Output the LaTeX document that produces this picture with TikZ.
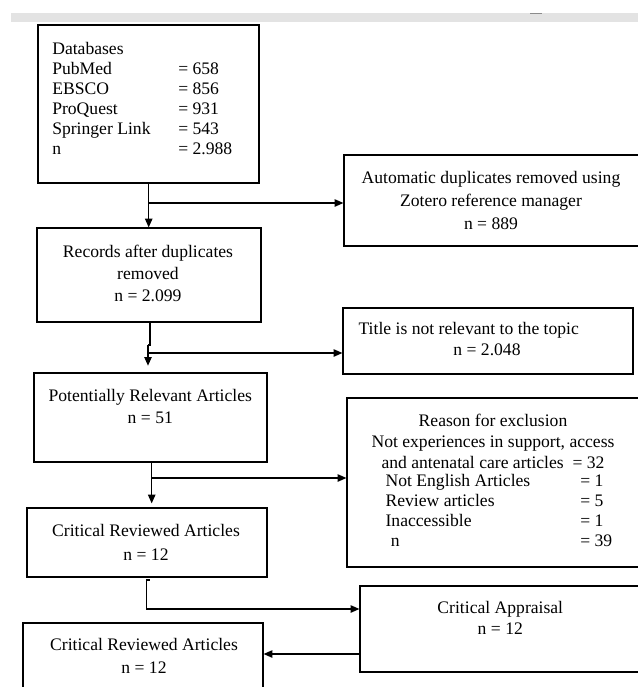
\documentclass[tikz,border=0pt]{standalone}
\usepackage{fontspec}
\setmainfont{Liberation Serif}
\usetikzlibrary{arrows.meta,fit}

\tikzset{every picture/.style={line width=0.9pt}}
\tikzset{
  box/.style={draw, inner sep=0pt},
  txt/.style={inner sep=0pt, align=center, font=\fontsize{13.2}{16.5}\selectfont},
  arr/.style={-{Triangle[length=6.5pt,width=5.5pt]}},
}

\begin{document}
\begin{tikzpicture}[x=0.75pt,y=0.75pt,yscale=-1,xscale=1]
\useasboundingbox (0,0) rectangle (638,687);

%Shape: Bar at the top
\fill [black!11] (11,13) rectangle (638,22) ;
\draw [black!45] (530,13.5) -- (542,13.5) ;

%Shape: Rectangle [databases]
\node [box, fit={(38,25) (259,183)}] (db) {};
%Shape: Rectangle [automatic duplicates]
\node [box, fit={(344,155) (650,246)}] (dup) {};
%Shape: Rectangle [records]
\node [box, fit={(37,228) (261,322)}] (rec) {};
%Shape: Rectangle [title]
\node [box, fit={(343,308) (633,374)}] (title) {};
%Shape: Rectangle [potentially relevant]
\node [box, fit={(34,373) (267,462)}] (pot) {};
%Shape: Rectangle [reason for exclusion]
\node [box, fit={(347,398) (650,567)}] (reason) {};
%Shape: Rectangle [critical reviewed]
\node [box, fit={(27,508) (267,577)}] (crit) {};
%Shape: Rectangle [critical appraisal]
\node [box, fit={(360,586) (650,672)}] (appr) {};
%Shape: Rectangle [critical reviewed, last]
\node [box, fit={(23,623) (263,700)}] (critb) {};

% Junctions
\coordinate (j1) at (148.7,203);
\coordinate (j2) at (148,353);
\coordinate (j3) at (151.7,478);
\coordinate (j4) at (146.7,609);
\coordinate (j5) at (360,654);
\coordinate (s4) at (149.5,580);

%Shape: Lines and arrows
\draw [arr] (j1 |- db.south) -- (j1 |- rec.north) ;
\draw [arr] (j1) -- (j1 -| dup.west) ;
\draw (150,322) -- (150,345) -- (148,345) ;
\draw [arr, shorten >=5] (148,345) -- (j2 |- pot.north) ;
\draw [arr] (j2) -- (j2 -| title.west) ;
\draw [arr, shorten >=3] (j3 |- pot.south) -- (j3 |- crit.north) ;
\draw [arr] (j3) -- (j3 -| reason.west) ;
\draw [arr] (s4) -| (j4) -- (j4 -| appr.west) ;
\draw [arr] (j5) -- (j5 -| critb.east) ;

% Text Node
\node [txt, anchor=west] (dbtxt) at (51.7,100.6) {\fontsize{13.2}{15}\selectfont
  \begin{tabular}{@{}p{94.5pt}@{}l@{}}
  \multicolumn{2}{@{}l@{}}{Databases}\\
  PubMed & = 658\\
  EBSCO & = 856\\
  ProQuest & = 931\\
  Springer Link & = 543\\
  n & = 2.988
  \end{tabular}};
% Text Node
\node [txt, font=\fontsize{13.2}{16.9}\selectfont] (duptxt) at (491,200.5) {Automatic duplicates removed using\\Zotero reference manager\\n = 889};
% Text Node
\node [txt] (rectxt) at (148,273) {Records after duplicates\\removed\\n = 2.099};
% Text Node
\node [txt, anchor=west] (titletxt) at (358,330) {Title is not relevant to the topic};
% Text Node
\node [txt] (titlen) at (487,350) {n = 2.048};
% Text Node
\node [txt] (pottxt) at (150.3,406.4) {Potentially Relevant Articles\\n = 51};
% Text Node
\node [txt, font=\fontsize{13.2}{15.75}\selectfont] (reasontxt) at (493,441) {Reason for exclusion\\Not experiences in support, access\\and antenatal care articles~~= 32};
% Text Node
\node [txt, anchor=west] (reasonlist) at (385,512.8) {\fontsize{13.2}{15}\selectfont
  \begin{tabular}{@{}p{146pt}@{}l@{}}
  Not English Articles & = 1\\
  Review articles & = 5\\
  Inaccessible & = 1\\
  \hspace{4pt}n & = 39
  \end{tabular}};
% Text Node
\node [txt, font=\fontsize{13.2}{17.5}\selectfont] (crittxt) at (146,542.3) {Critical Reviewed Articles\\n = 12};
% Text Node
\node [txt, font=\fontsize{13.2}{15.75}\selectfont] (apprtxt) at (500.3,617.5) {Critical Appraisal\\n = 12};
% Text Node
\node [txt, font=\fontsize{13.2}{16.7}\selectfont] (critbtxt) at (144,655.8) {Critical Reviewed Articles\\n = 12};

\end{tikzpicture}
\end{document}
